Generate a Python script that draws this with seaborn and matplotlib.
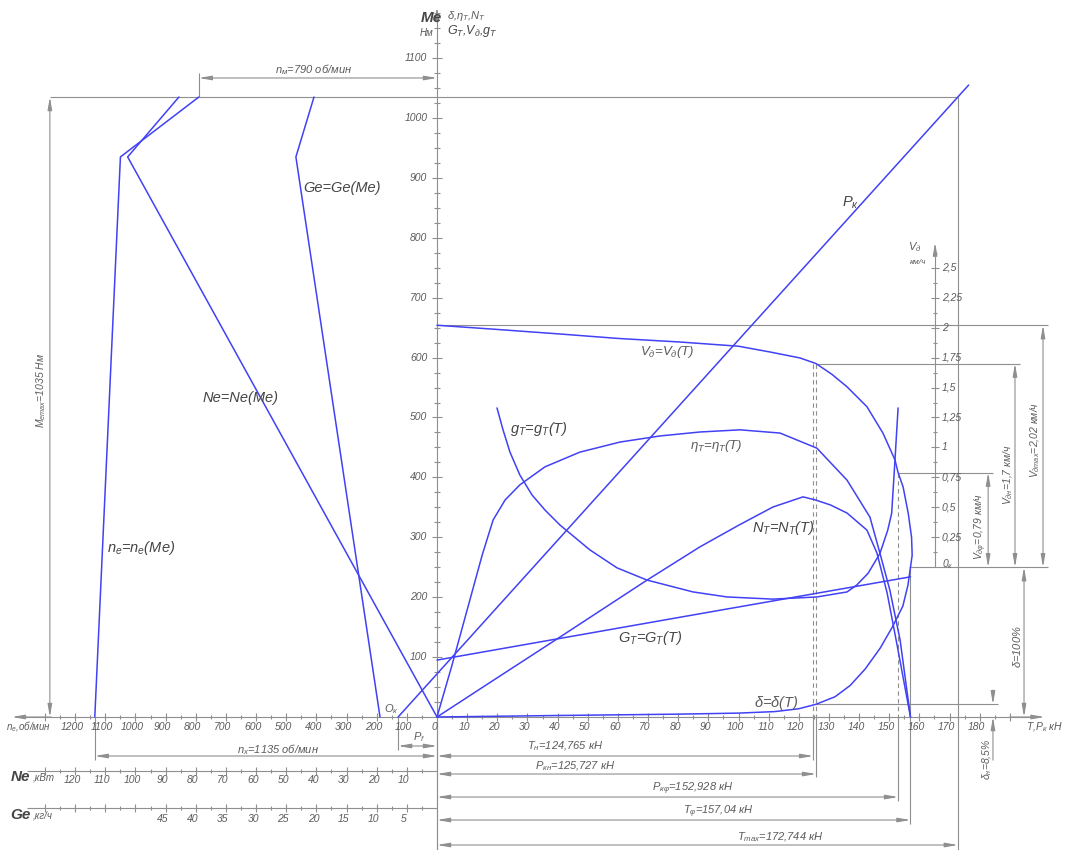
import numpy as np
import matplotlib
matplotlib.use("Agg")
import matplotlib.pyplot as plt
import seaborn as sns

# ---------------- engine regulator characteristic ----------------
me_reg = [0, 935, 1035]            # Me, N*m
n_reg = [1135, 1050, 790]          # n_e, rpm
ne_reg = [0, 102.6, 85.6]          # Ne, kW
ge_reg = [9.45, 23.4, 20.4]        # Ge, kg/h

# ---------------- traction characteristic (T, kN) ----------------
t_eta = [0, 5, 10, 15, 18.6, 22.6, 27.5, 35.8, 47.4, 60.7, 74, 87.2, 100.5,
         113.8, 126, 136, 143.6, 146.9, 150.2, 153.6, 157.04]
eta_t = [0, 0.145, 0.298, 0.451, 0.548, 0.604, 0.646, 0.696, 0.737, 0.765,
         0.782, 0.793, 0.799, 0.79, 0.748, 0.659, 0.556, 0.456, 0.353, 0.214, 0]

t_nt = [0, 20.9, 40.8, 69.65, 87.2, 100, 111.4, 121.4, 125.4, 130.5, 136,
        142.6, 145.9, 149.3, 152.6, 157.04]
n_t = [0, 13.7, 26.7, 45.7, 56.8, 64, 70.1, 73.5, 72.5, 70.8, 68.1, 62.4,
       54.8, 41.4, 24.0, 0]

t_gs = [19.9, 21.9, 24.2, 27.5, 31.5, 35.8, 40.8, 50.7, 59.7, 69.65, 84.9,
        96.2, 111.4, 126, 136, 139.2, 143, 146.9, 149.5, 150.8, 151.9, 152.928]
g_t = [860, 799, 737, 673, 618, 576, 534, 465, 415, 381, 348, 334, 328, 334,
       348, 367, 400, 455, 520, 567, 715, 860]

t_gt = [0, 80, 157.04]
gt_t = [9.5, 16.6, 23.4]

t_v = [0, 20, 40.8, 60, 80.6, 100, 110.4, 120.4, 125.727, 131, 136, 142.6,
       147.9, 151.9, 152.928, 154.6, 156.3, 157.4, 157.6, 157.04]
v_d = [2.02, 1.985, 1.947, 1.91, 1.88, 1.845, 1.797, 1.747, 1.70, 1.61, 1.506,
       1.34, 1.12, 0.896, 0.79, 0.67, 0.45, 0.25, 0.10, 0]

t_dl = [0, 40, 80, 100, 112, 120, 125.727, 132, 137, 142, 147, 151, 154.5,
        156.2, 157.04]
delta = [0, 1.0, 1.9, 2.6, 3.6, 5.5, 8.5, 13.5, 21, 32, 46, 60, 74, 88, 100]

pk_me = [0, 1055]
pk_t = [-12.9, 176.33]

# key values
ME_MAX, N_M, N_X, P_F = 1035, 790, 1135, 12.9
T_N, PK_N, PK_PHI, T_PHI, T_MAX = 124.765, 125.727, 152.928, 157.04, 172.744
V_MAX, V_N, V_PHI, DELTA_N = 2.02, 1.7, 0.79, 8.5

# scales of the nomogram (all drawn on the Me / T frame)
N_SC, NE_SC, GE_SC = 0.1, 1.0, 2.0        # left quadrant, per unit
V_BASE, V_SC = 250, 200                   # speed axis
D_SC, ETA_SC, NT_SC, GT_SC, GS_SC = 2.5, 600, 5, 10, 0.6

BLUE = "#4141f5"
GRAY = "#8f8f8f"
TXT = "#5c5c5c"
LAB = "#454545"

sns.set_theme(style="white")
plt.rcParams["font.family"] = ["Liberation Sans", "DejaVu Sans"]
plt.rcParams["mathtext.fontset"] = "custom"
plt.rcParams["mathtext.rm"] = "Liberation Sans:italic"
plt.rcParams["mathtext.it"] = "Liberation Sans:italic"

fig = plt.figure(figsize=(10.65, 8.5), dpi=100)
ax = fig.add_axes([0, 0, 1, 1])
ax.set_xlim(-144.94, 208.29)
ax.set_ylim(-222.04, 1196.99)
ax.set_axis_off()

LW_AX = 0.8


def seg(x, y, ls="-", lw=LW_AX, color=GRAY):
    ax.plot(x, y, color=color, lw=lw, ls=ls, solid_capstyle="butt")


def arrow(x0, y0, x1, y1, both=True):
    style = "<|-|>" if both else "-|>"
    ax.annotate("", xy=(x1, y1), xytext=(x0, y0),
                arrowprops=dict(arrowstyle=f"{style},head_length=0.75,head_width=0.13",
                                color=GRAY, lw=LW_AX, shrinkA=0, shrinkB=0,
                                mutation_scale=10))


def txt(x, y, s, size=8, color=TXT, **kw):
    kw.setdefault("ha", "center")
    kw.setdefault("va", "center")
    ax.text(x, y, s, fontsize=size, color=color, style="italic", **kw)


def curve(x, y):
    sns.lineplot(x=np.asarray(x, float), y=np.asarray(y, float), ax=ax,
                 color=BLUE, lw=1.1, sort=False, estimator=None, legend=False)


TS = 7.5   # tick label size

# ---------------- axes ----------------
# Me axis
seg([0, 0], [-222, 1170])
arrow(0, 1160, 0, 1185, both=False)
for v in np.arange(25, 1176, 25):
    h = 1.5 if v % 100 == 0 else 0.9
    seg([-h, h], [v, v])
for v in range(100, 1101, 100):
    txt(-3.2, v, str(v), ha="right", size=TS)

# bottom axis: n_e to the left, T to the right
seg([-138, 199], [0, 0])
arrow(-128, 0, -141, 0, both=False)
arrow(190, 0, 201.5, 0, both=False)
for t in np.arange(5, 191, 5):
    h = 6 if t % 10 == 0 else 4
    seg([t, t], [-h, h])
for t in range(10, 181, 10):
    txt(t - 1, -17, str(t), size=TS)
for n in np.arange(50, 1301, 50):
    h = 6 if n % 100 == 0 else 4
    seg([-n * N_SC] * 2, [-h, h])
for n in range(100, 1201, 100):
    txt(-n * N_SC - 1, -17, str(n), size=TS)
txt(-1, -17, "0", size=TS)
txt(-143.0, -17, "$n_e$,об/мин", ha="left", size=7)
txt(207.6, -17, "T,$P_к$ кН", ha="right", size=7.5)

# Ne axis
Y_NE = -90.2
seg([-136, 0], [Y_NE, Y_NE])
for v in np.arange(5, 131, 5):
    h = 6 if v % 10 == 0 else 4
    seg([-v * NE_SC] * 2, [Y_NE - h, Y_NE + h])
for v in range(10, 121, 10):
    txt(-v * NE_SC - 1, Y_NE - 15, str(v), size=TS)
txt(-141.5, Y_NE - 10, "Ne", ha="left", size=11, color=LAB, weight="bold")
txt(-134.0, Y_NE - 11, ",кВт", ha="left", size=7)

# Ge axis
Y_GE = -151.9
seg([-136, 0], [Y_GE, Y_GE])
for v in np.arange(2.5, 66, 2.5):
    h = 6 if v % 5 == 0 else 4
    seg([-v * GE_SC] * 2, [Y_GE - h, Y_GE + h])
for v in range(5, 46, 5):
    txt(-v * GE_SC - 1, Y_GE - 18, str(v), size=TS)
txt(-141.5, Y_GE - 12, "Ge", ha="left", size=11, color=LAB, weight="bold")
txt(-134.0, Y_GE - 13, ",кг/ч", ha="left", size=7)

# axis titles
txt(-5.5, 1167, "Me", size=11, color=LAB, ha="left", weight="bold")
txt(-5.8, 1142, "Нм", size=7, ha="left")
txt(3.2, 1170, r"$\delta$,$\eta_T$,$N_T$", size=8, ha="left")
txt(3.2, 1145, r"$G_T$,$V_д$,$g_T$", size=9, ha="left", color=LAB)

# speed axis
XV = 165.2
seg([XV, XV], [V_BASE, 781])
arrow(XV, 770, XV, 792, both=False)
for v in np.arange(0.125, 2.63, 0.125):
    h = 1.3 if abs(v / 0.25 - round(v / 0.25)) < 1e-6 else 0.8
    seg([XV - h, XV + h], [V_BASE + V_SC * v] * 2)
for v in np.arange(0.25, 2.51, 0.25):
    s = f"{v:g}".replace(".", ",")
    txt(XV + 2.3, V_BASE + V_SC * v, s, ha="left", size=TS)
txt(XV + 2.3, V_BASE + 6, "$0_к$", ha="left", size=TS)
txt(XV - 4.5, 785, "$V_д$", size=8, ha="right")
txt(XV - 3, 758, "км/ч", size=6, ha="right")

# ---------------- frame / dimension lines ----------------
X_ME = -128.4
seg([X_ME, T_MAX], [ME_MAX, ME_MAX])
arrow(X_ME, 0, X_ME, ME_MAX)
txt(X_ME - 3, 546, "$M_{emax}$=1035 Нм", rotation=90, size=7.5)

seg([-N_M * N_SC] * 2, [ME_MAX, 1075])
arrow(-N_M * N_SC, 1066.8, 0, 1066.8)
txt(-41, 1080, "$n_м$=790 об/мин", size=8)

seg([-N_X * N_SC] * 2, [0, -72])
arrow(-N_X * N_SC, -65.1, 0, -65.1)
txt(-52.7, -55, "$n_х$=1135 об/мин", size=8)

seg([-P_F] * 2, [0, -55])
arrow(-P_F, -48.4, 0, -48.4)
txt(-6, -33, "$P_f$", size=8)
txt(-15.2, 14, "$O_к$", size=8)

# vertical extension lines at the key pulls
seg([T_N] * 2, [V_BASE + V_SC * 1.695, 0], ls=(0, (4, 3)))
seg([PK_N] * 2, [V_BASE + V_SC * V_N, 0], ls=(0, (4, 3)))
seg([PK_PHI] * 2, [V_BASE + V_SC * V_PHI, 0], ls=(0, (4, 3)))
seg([T_N] * 2, [0, -71])
seg([PK_N] * 2, [0, -101])
seg([PK_PHI] * 2, [0, -140])
seg([T_PHI] * 2, [V_BASE, -178])
seg([T_MAX] * 2, [ME_MAX, -222])
seg([0, 0], [0, -222])

for xv, yv, lab, lx, ly in [
        (T_N, -65.1, "$T_н$=124,765 кН", 42.5, -49),
        (PK_N, -95.2, "$P_{кн}$=125,727 кН", 45.8, -81.8),
        (PK_PHI, -133.6, r"$P_{к\varphi}$=152,928 кН", 84.9, -120),
        (T_PHI, -172, r"$T_\varphi$=157,04 кН", 93.2, -158.6),
        (T_MAX, -213.7, "$T_{max}$=172,744 кН", 113.8, -201)]:
    arrow(0, yv, xv, yv)
    txt(lx, ly, lab, size=8)

# speed dimensions
Y_VMAX = V_BASE + V_SC * V_MAX
seg([0, 202.7], [Y_VMAX] * 2)
arrow(201.0, V_BASE, 201.0, Y_VMAX)
txt(198.4, 462, "$V_{дmax}$=2,02 км/ч", rotation=90, size=7.5)

Y_VN = V_BASE + V_SC * V_N
seg([PK_N, 193.4], [Y_VN] * 2)
arrow(191.7, V_BASE, 191.7, Y_VN)
txt(189.3, 404, "$V_{дн}$=1,7 км/ч", rotation=90, size=7.5)

Y_VP = V_BASE + V_SC * V_PHI
seg([PK_PHI, 184.3], [Y_VP] * 2)
arrow(182.8, V_BASE, 182.8, Y_VP)
txt(180.2, 318, r"$V_{д\varphi}$=0,79 км/ч", rotation=90, size=7.5)

seg([T_PHI, 202.7], [V_BASE, V_BASE])

# slip dimensions
arrow(194.7, 0, 194.7, V_BASE)
txt(192.3, 117, r"$\delta$=100%", rotation=90, size=8)
Y_DN = D_SC * DELTA_N
seg([PK_N, 186.0], [Y_DN, Y_DN])
arrow(184.4, 45, 184.4, Y_DN, both=False)
arrow(184.4, -72, 184.4, 0, both=False)
txt(182.6, -70, r"$\delta_н$=8,5%", rotation=90, size=7.5)

# ---------------- curves ----------------
me_arr = np.asarray(me_reg, float)
curve(-np.asarray(n_reg) * N_SC, me_arr)
curve(-np.asarray(ne_reg) * NE_SC, me_arr)
curve(-np.asarray(ge_reg) * GE_SC, me_arr)

curve(pk_t, pk_me)
curve(t_eta, np.asarray(eta_t) * ETA_SC)
curve(t_nt, np.asarray(n_t) * NT_SC)
curve(t_gs, np.asarray(g_t) * GS_SC)
curve(t_gt, np.asarray(gt_t) * GT_SC)
curve(t_v, V_BASE + np.asarray(v_d) * V_SC)
curve(t_dl, np.asarray(delta) * D_SC)

# curve captions
CS = 10.5
txt(-44.4, 883, "Ge=Ge(Me)", size=CS, color=LAB, ha="left")
txt(-77.9, 532, "Ne=Ne(Me)", size=CS, color=LAB, ha="left")
txt(-109.5, 282, "$n_e$=$n_e$(Me)", size=CS, color=LAB, ha="left")
txt(134.4, 858, "$P_к$", size=CS, color=LAB, ha="left")
txt(67.3, 609, "$V_д$=$V_д$(T)", size=9.5, color=TXT, ha="left")
txt(24.2, 480, "$g_T$=$g_T$(T)", size=CS, color=LAB, ha="left")
txt(83.9, 452, r"$\eta_T$=$\eta_T$(T)", size=9.5, color=TXT, ha="left")
txt(104.5, 316, "$N_T$=$N_T$(T)", size=CS, color=LAB, ha="left")
txt(60.0, 132, "$G_T$=$G_T$(T)", size=CS, color=LAB, ha="left")
txt(105.1, 24, r"$\delta$=$\delta$(T)", size=CS, color=TXT, ha="left")

fig.savefig("out.png", dpi=100, facecolor="white")
